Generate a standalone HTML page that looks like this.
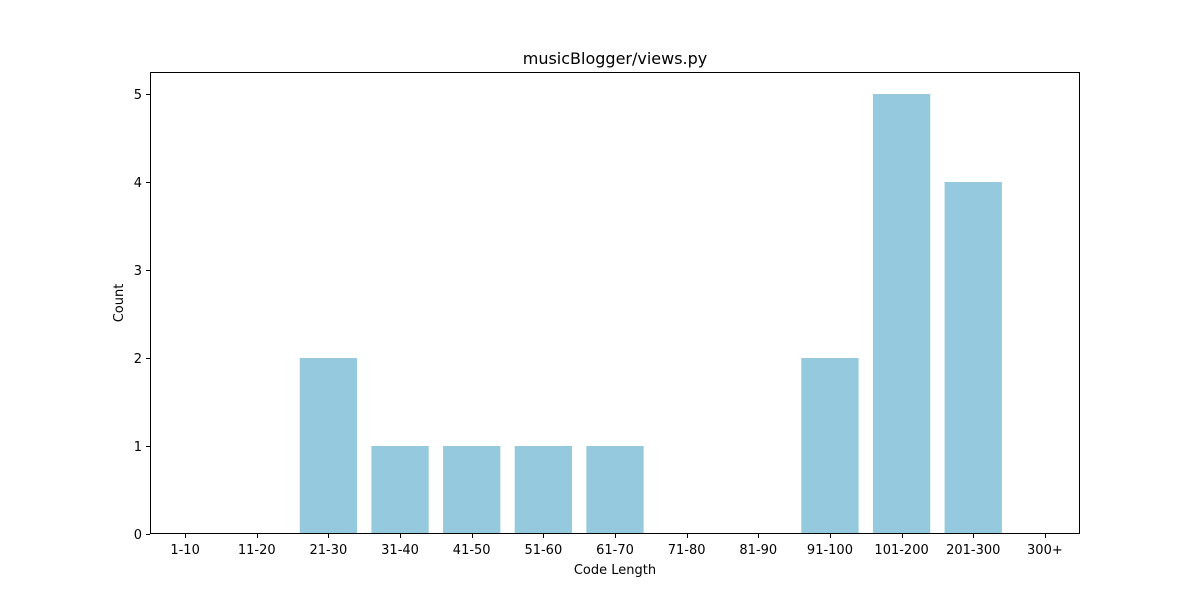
<!DOCTYPE html>
<html><head><meta charset="utf-8"><style>
body{margin:0;background:#fff;font-family:"Liberation Sans","DejaVu Sans",sans-serif;}
text{font-family:"DejaVu Sans","Liberation Sans",sans-serif;}
</style></head><body>
<svg id="chart" width="1200" height="600" xmlns="http://www.w3.org/2000/svg">
<rect width="1200" height="600" fill="#fff"/>
<text x="615" y="64" text-anchor="middle" font-size="16">musicBlogger/views.py</text>
<g id="bars"></g>
<g id="axes"></g>
<rect x="150.5" y="72.5" width="929" height="461" fill="none" stroke="#000" stroke-width="1"/>
<text x="615" y="574" text-anchor="middle" font-size="13">Code Length</text>
<text transform="translate(123,303) rotate(-90)" text-anchor="middle" font-size="13">Count</text>
</svg>
<script>
const categories=["1-10","11-20","21-30","31-40","41-50","51-60","61-70","71-80","81-90","91-100","101-200","201-300","300+"];
const counts=[0,0,2,1,1,1,1,0,0,2,5,4,0];
const yTicks=[0,1,2,3,4,5];
const L=150,R=1080,T=72,B=534,xmin=-0.49,xmax=12.49,ymax=5.25;
const xs=i=>L+(i-xmin)/(xmax-xmin)*(R-L);
const ys=v=>B-v/ymax*(B-T);
const NS="http://www.w3.org/2000/svg";
const bars=document.getElementById('bars'),axes=document.getElementById('axes');
const bw=0.8*(R-L)/(xmax-xmin);
categories.forEach((c,i)=>{
 const v=counts[i];
 const r=document.createElementNS(NS,'rect');
 r.setAttribute('x',xs(i)-bw/2);r.setAttribute('y',ys(v));
 r.setAttribute('width',bw);r.setAttribute('height',B-ys(v));
 r.setAttribute('fill','#95c9dd');
 
 
 bars.appendChild(r);
 const t=document.createElementNS(NS,'line');
 const tx=Math.round(xs(i))+0.5;
 t.setAttribute('x1',tx);t.setAttribute('x2',tx);t.setAttribute('y1',B);t.setAttribute('y2',B+4);t.setAttribute('stroke','#000');
 axes.appendChild(t);
 const l=document.createElementNS(NS,'text');
 l.setAttribute('x',xs(i));l.setAttribute('y',B+20);l.setAttribute('text-anchor','middle');l.setAttribute('font-size','13');
 l.textContent=c;
 
 
 axes.appendChild(l);
});
yTicks.forEach(v=>{
 const t=document.createElementNS(NS,'line');
 const ty=Math.round(ys(v))+0.5;
 t.setAttribute('x1',L-4);t.setAttribute('x2',L);t.setAttribute('y1',ty);t.setAttribute('y2',ty);t.setAttribute('stroke','#000');
 axes.appendChild(t);
 const l=document.createElementNS(NS,'text');
 l.setAttribute('x',L-8);l.setAttribute('y',ys(v)+5);l.setAttribute('text-anchor','end');l.setAttribute('font-size','13');
 l.textContent=v;
 
 
 axes.appendChild(l);
});
</script>
</body></html>
